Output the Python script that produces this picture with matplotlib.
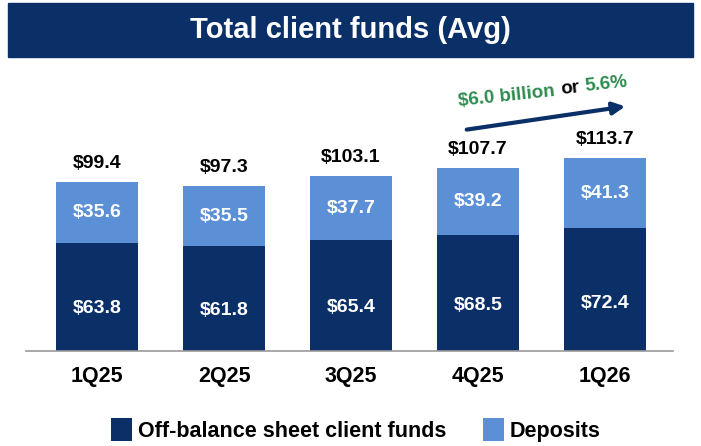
import matplotlib.pyplot as plt
from matplotlib.patches import Rectangle

plt.rcParams['font.family'] = ['Liberation Sans', 'DejaVu Sans']

# Data (USD billions)
quarters = ["1Q25", "2Q25", "3Q25", "4Q25", "1Q26"]
off_balance = [63.8, 61.8, 65.4, 68.5, 72.4]
deposits = [35.6, 35.5, 37.7, 39.2, 41.3]
totals = [99.4, 97.3, 103.1, 107.7, 113.7]

navy = "#0b3068"
light = "#5b8fd6"
green = "#2e8b4e"

W, H = 701, 446
fig = plt.figure(figsize=(W / 100, H / 100), dpi=100)


def fx(px):
    return px / W


def fy(py):
    return 1 - py / H


# Title banner
fig.patches.append(Rectangle((fx(8), fy(57)), fx(685), 54 / H,
                             transform=fig.transFigure, color=navy, zorder=0))
fig.text(0.5, fy(30), "Total client funds (Avg)", color="white",
         fontsize=21, fontweight="bold", ha="center", va="center")

# Axes: baseline at y=351px, x from 26 to 673px
ax = fig.add_axes([fx(26), fy(351), fx(647), 290 / H])
x = list(range(len(quarters)))
ax.bar(x, off_balance, width=0.64, color=navy, label="Off-balance sheet client funds")
ax.bar(x, deposits, width=0.64, bottom=off_balance, color=light, label="Deposits")
ax.set_xlim(-0.56, 4.535)
ax.set_ylim(0, 171)

for i in x:
    ax.text(i, off_balance[i] * 0.39, f"${off_balance[i]:.1f}", color="white",
            fontsize=14, fontweight="bold", ha="center", va="center")
    ax.text(i, off_balance[i] + deposits[i] / 2, f"${deposits[i]:.1f}", color="white",
            fontsize=14, fontweight="bold", ha="center", va="center")
    ax.text(i, totals[i] + 6, f"${totals[i]:.1f}", color="black",
            fontsize=14, fontweight="bold", ha="center", va="bottom")

# Growth arrow and label
ax.annotate("", xy=(fx(628), fy(106)), xytext=(fx(464), fy(130)),
            xycoords="figure fraction", textcoords="figure fraction",
            arrowprops=dict(arrowstyle="-|>", color=navy, lw=3, mutation_scale=18))
fig.text(fx(506), fy(96), "$6.0 billion", color=green, fontsize=13.5,
         fontweight="bold", ha="center", va="center", rotation=6)
fig.text(fx(570), fy(89), "or", color="black", fontsize=13.5,
         fontweight="bold", ha="center", va="center", rotation=6)
fig.text(fx(606), fy(84), "5.6%", color=green, fontsize=13.5,
         fontweight="bold", ha="center", va="center", rotation=6)

ax.set_xticks(x)
ax.set_xticklabels(quarters, fontsize=15.5, fontweight="bold")
ax.tick_params(axis="x", length=0, pad=11)
ax.set_yticks([])
for s in ["top", "right", "left"]:
    ax.spines[s].set_visible(False)
ax.spines["bottom"].set_color("#9a9a9a")
ax.spines["bottom"].set_linewidth(1.2)

fig.legend(loc="center", bbox_to_anchor=(fx(356), fy(430)), ncol=2, frameon=False,
           prop={"size": 15.5, "weight": "bold"}, handlelength=0.95, handleheight=1.3,
           columnspacing=1.7, handletextpad=0.3)

fig.savefig("out.png", dpi=100)
